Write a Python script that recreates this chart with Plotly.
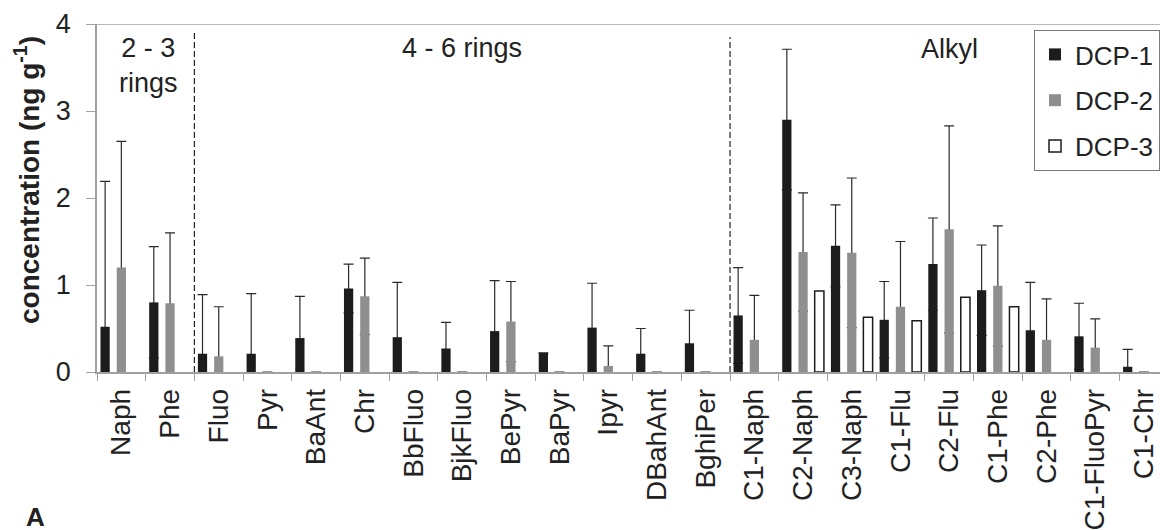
import plotly.graph_objects as go

categories = ["Naph", "Phe", "Fluo", "Pyr", "BaAnt", "Chr", "BbFluo", "BjkFluo",
              "BePyr", "BaPyr", "Ipyr", "DBahAnt", "BghiPer", "C1-Naph", "C2-Naph",
              "C3-Naph", "C1-Flu", "C2-Flu", "C1-Phe", "C2-Phe", "C1-FluoPyr", "C1-Chr"]

dcp1 = [0.52, 0.80, 0.21, 0.21, 0.39, 0.96, 0.40, 0.27, 0.47, 0.22, 0.51, 0.21, 0.33,
        0.65, 2.90, 1.45, 0.60, 1.24, 0.94, 0.48, 0.41, 0.06]
dcp1_err = [1.67, 0.64, 0.68, 0.69, 0.48, 0.28, 0.63, 0.30, 0.58, 0.0, 0.51, 0.29, 0.38,
            0.55, 0.81, 0.47, 0.44, 0.53, 0.52, 0.55, 0.38, 0.20]

dcp2 = [1.20, 0.79, 0.18, 0.0, 0.0, 0.87, 0.0, 0.0, 0.58, 0.0, 0.07, 0.0, 0.0,
        0.37, 1.38, 1.37, 0.75, 1.64, 0.99, 0.37, 0.28, 0.0]
dcp2_err = [1.45, 0.81, 0.57, 0.0, 0.0, 0.44, 0.0, 0.0, 0.46, 0.0, 0.23, 0.0, 0.0,
            0.51, 0.68, 0.86, 0.75, 1.19, 0.69, 0.47, 0.33, 0.0]

dcp3 = [None] * 14 + [0.93, 0.63, 0.59, 0.86, 0.75] + [None, None, None]

group_labels = ["2 - 3<br>rings", "4 - 6 rings", "Alkyl"]

FONT = "Liberation Sans, Arial, sans-serif"
BLACK = "#1c1c1c"
GRAY = "#8f8f8f"
AXIS = "#a0a0a0"
TXT = "#222222"
BW = 0.19
offsets = [-1/3 - BW/2, -BW/2, 1/3 - BW/2]

fig = go.Figure()

# error bars drawn first (under the bars)
for vals, errs, off in [(dcp1, dcp1_err, offsets[0]), (dcp2, dcp2_err, offsets[1])]:
    fig.add_trace(go.Bar(
        x=categories, y=vals, width=BW, offset=off,
        marker=dict(color="rgba(0,0,0,0)", line=dict(width=0)),
        error_y=dict(type="data", symmetric=True, array=errs,
                     color="#2a2a2a", thickness=1.2, width=5),
        showlegend=False, hoverinfo="skip"))

fig.add_trace(go.Bar(name="DCP-1", x=categories, y=dcp1, width=BW, offset=offsets[0],
                     marker=dict(color=BLACK, line=dict(width=0)), legendgroup="g1"))
fig.add_trace(go.Bar(name="DCP-2", x=categories, y=dcp2, width=BW, offset=offsets[1],
                     marker=dict(color=GRAY, line=dict(width=0)), legendgroup="g2"))
fig.add_trace(go.Bar(name="DCP-3", x=categories, y=dcp3, width=BW, offset=offsets[2],
                     marker=dict(color="white", line=dict(color=BLACK, width=1.5)),
                     legendgroup="g3"))

shapes = [
    dict(type="line", xref="x", yref="y", x0=1.5, x1=1.5, y0=0, y1=3.9,
         line=dict(color=TXT, width=1.2, dash="6px,3px")),
    dict(type="line", xref="x", yref="y", x0=12.5, x1=12.5, y0=0, y1=3.85,
         line=dict(color=TXT, width=1.2, dash="6px,3px")),
    dict(type="line", xref="paper", yref="y", x0=-9/1063, x1=1, y0=4, y1=4,
         line=dict(color=AXIS, width=1.5)),
]

annotations = [
    dict(xref="x", yref="paper", x=0.55, y=(372-65)/348, text=group_labels[0],
         xanchor="center", yanchor="middle", showarrow=False, align="center",
         font=dict(family=FONT, size=27, color=TXT)),
    dict(xref="x", yref="paper", x=7.0, y=(372-48)/348, text=group_labels[1],
         xanchor="center", yanchor="middle", showarrow=False,
         font=dict(family=FONT, size=27, color=TXT)),
    dict(xref="x", yref="paper", x=17.0, y=(372-49)/348, text=group_labels[2],
         xanchor="center", yanchor="middle", showarrow=False,
         font=dict(family=FONT, size=27, color=TXT)),
    dict(xref="paper", yref="paper", x=(27-97)/1063, y=(372-180)/348,
         xanchor="center", yanchor="middle",
         text="concentration (ng g<sup>-1</sup>)", textangle=-90, showarrow=False,
         font=dict(family=FONT, size=28, color=TXT, weight="bold")),
    dict(xref="paper", yref="paper", x=(24-97)/1063, y=(372-500)/348, xanchor="left",
         yanchor="top", text="<b>A</b>", showarrow=False,
         font=dict(family=FONT, size=26, color=TXT)),
]

fig.update_layout(
    width=1160, height=530,
    margin=dict(l=97, r=0, t=24, b=158),
    paper_bgcolor="white", plot_bgcolor="white",
    barmode="overlay",
    font=dict(family=FONT, color=TXT),
    shapes=shapes, annotations=annotations,
    legend=dict(x=1, xanchor="right", y=(372-30)/348, yanchor="top",
                font=dict(family=FONT, size=26, color=TXT),
                bordercolor="#7a7a7a", borderwidth=1, bgcolor="white",
                tracegroupgap=9, traceorder="grouped"),
    xaxis=dict(type="category", categoryorder="array", categoryarray=categories,
               range=[-0.5, 21.33], tickson="boundaries", ticks="outside", ticklen=7,
               tickcolor=AXIS, showline=True, linecolor=AXIS, linewidth=1.5,
               tickangle=-90, tickfont=dict(family=FONT, size=28, color=TXT),
               showgrid=False, ticklabelstandoff=4, automargin=False),
    yaxis=dict(range=[0, 4], dtick=1, tick0=0, ticks="outside", ticklen=9,
               tickcolor=AXIS, showline=True, linecolor=AXIS, linewidth=1.5,
               tickfont=dict(family=FONT, size=27, color=TXT),
               showgrid=False, zeroline=False, ticklabelstandoff=10,
               automargin=False),
)

fig.write_html("out.html", config={"displayModeBar": False},
               post_script="document.body.style.margin='0';")
